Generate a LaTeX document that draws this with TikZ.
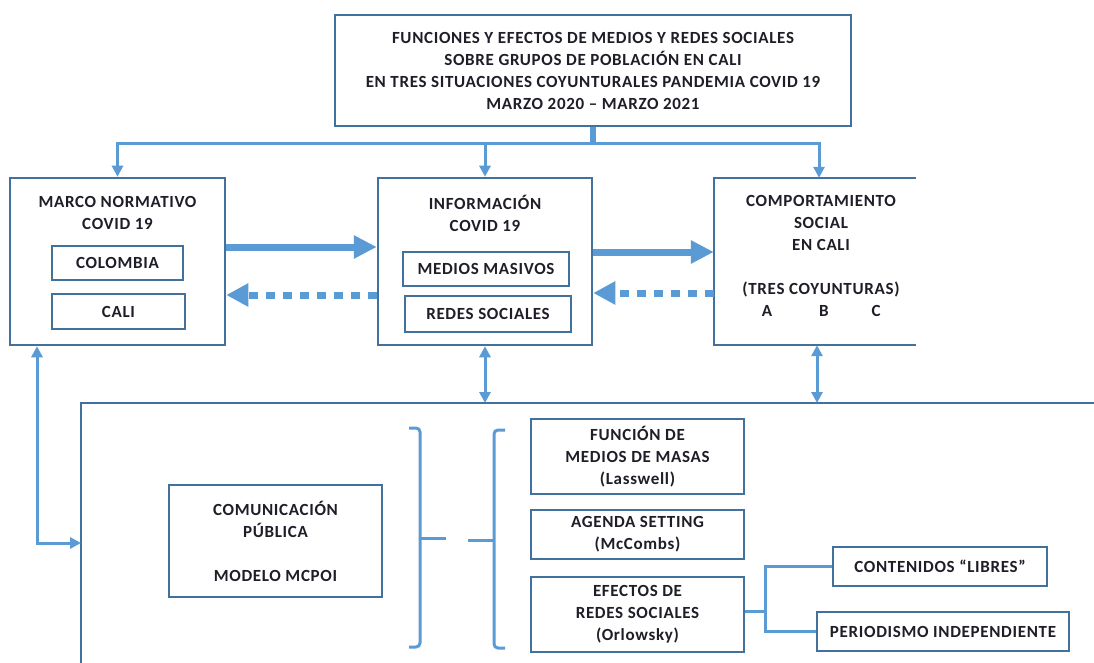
\documentclass[tikz,border=0pt]{standalone}
\usepackage{fontspec}
\setmainfont{Carlito}[LetterSpace=4]
\usetikzlibrary{arrows.meta}
\definecolor{boxc}{HTML}{41719C}
\definecolor{arrc}{HTML}{5B9BD5}
\definecolor{txtc}{HTML}{1E1E28}
\tikzset{
  box/.style={draw=boxc, line width=2.5pt, align=center, inner sep=0pt},
  ghost/.style={align=center, inner sep=0pt},
  lbl/.style={align=center, inner sep=0pt},
  thinarr/.style={draw=arrc, line width=3pt, -{Triangle[length=11pt,width=11pt]}},
  dblarr/.style={draw=arrc, line width=3pt, {Triangle[length=11pt,width=11pt]}-{Triangle[length=11pt,width=11pt]}},
  conn/.style={draw=arrc, line width=3pt},
  fatarr/.style={draw=arrc, line width=7pt, -{Triangle[length=23pt,width=22pt]}},
  dasharr/.style={draw=arrc, line width=7pt, dash pattern=on 9pt off 8pt, -{Triangle[length=22pt,width=22pt]}},
  frame/.style={draw=boxc, line width=2.5pt},
  brk/.style={draw=arrc, line width=3pt, rounded corners=4pt}
}
\begin{document}
\begin{tikzpicture}[x=1pt,y=-1pt, font=\fontsize{17}{22}\selectfont\bfseries, text=txtc]
\useasboundingbox (0,0) rectangle (1094,663);
\fill[white] (0,0) rectangle (1094,663);

% top box
\node[box, minimum width=516pt, minimum height=111pt] (top) at (593,70.5)
  {FUNCIONES Y EFECTOS DE MEDIOS Y REDES SOCIALES\\SOBRE GRUPOS DE POBLACIÓN EN CALI\\EN TRES SITUACIONES COYUNTURALES PANDEMIA COVID 19\\MARZO 2020 – MARZO 2021};

% left box
\node[box, minimum width=215pt, minimum height=167pt] (marco) at (117.5,261.5) {};
\node[lbl] (marcot) at (117.5,213) {MARCO NORMATIVO\\COVID 19};
\node[box, minimum width=131pt, minimum height=34pt] (colombia) at (117.5,263) {COLOMBIA};
\node[box, minimum width=133pt, minimum height=35pt] (cali) at (118.5,311.5) {CALI};

% middle box
\node[box, minimum width=214pt, minimum height=167pt] (info) at (485,261.5) {};
\node[lbl] (infot) at (485,213) {INFORMACIÓN\\COVID 19};
\node[box, minimum width=166pt, minimum height=34pt] (medios) at (486,269) {MEDIOS MASIVOS};
\node[box, minimum width=166pt, minimum height=36pt] (redes) at (488,314) {REDES SOCIALES};

% right box (open on the right)
\node[ghost, minimum width=202pt, minimum height=167pt] (comp) at (815,261.5) {};
\draw[frame] (comp.north east) -- (comp.north west) -- (comp.south west) -- (comp.south east);
\node[lbl] (compt) at (821,246) {COMPORTAMIENTO\\SOCIAL\\EN CALI\\[22pt](TRES COYUNTURAS)};
\node[lbl] (ca) at (767,311) {A};
\node[lbl] (cb) at (824,311) {B};
\node[lbl] (cc) at (876,311) {C};

% distribution from top box
\coordinate (hub) at (593,144);
\draw[conn, line width=6pt] (top.south) -- (hub);
\draw[thinarr] (hub) -| (marco.north);
\draw[thinarr] (hub) -| (info.north);
\draw[thinarr] (hub) -| ([xshift=4pt]comp.north);

% fat arrows
\draw[fatarr] ([yshift=14.5pt]marco.east) -- ([yshift=14.5pt]info.west);
\draw[fatarr] ([yshift=9.5pt]info.east) -- ([yshift=9.5pt]comp.west);
\draw[dasharr] ([yshift=-33.5pt]info.west) -- ([yshift=-33.5pt]marco.east);
\draw[dasharr] ([yshift=-31.5pt]comp.west) -- ([yshift=-31.5pt]info.east);

% big lower frame (open right and bottom)
\coordinate (bigtl) at (81,403);
\draw[frame] (81,663) -- (bigtl) -- (1094,403);

% double arrows
\draw[dblarr] (info.south) -- (info.south |- bigtl);
\draw[dblarr] ([xshift=2pt]comp.south) -- ([xshift=2pt]comp.south |- bigtl);
\coordinate (bend) at (37,543);
\draw[dblarr] (marco.south -| bend) -- (bend) -- (bend -| bigtl);

% comunicación publica
\node[box, minimum width=213pt, minimum height=112pt] (com) at (275.5,541)
  {COMUNICACIÓN\\PÚBLICA\\[22pt]MODELO MCPOI};

% brackets
\draw[brk] (409,428) -- (420,428) -- (420,647) -- (409,647);
\draw[conn] (420,538) -- (446,538);
\draw[brk] (505,430) -- (494,430) -- (494,648) -- (505,648);
\draw[conn] (468,540) -- (494,540);

% right column
\node[box, minimum width=213pt, minimum height=75pt] (funcion) at (637.5,456.5)
  {FUNCIÓN DE\\MEDIOS DE MASAS\\(Lasswell)};
\node[box, minimum width=213pt, minimum height=49pt] (agenda) at (637.5,534.5)
  {AGENDA SETTING\\(McCombs)};
\node[box, minimum width=213pt, minimum height=75pt] (efectos) at (637.5,614.5)
  {EFECTOS DE\\REDES SOCIALES\\(Orlowsky)};
\node[box, minimum width=214pt, minimum height=39pt] (contenidos) at (940,566.5)
  {CONTENIDOS “LIBRES”};
\node[box, minimum width=252pt, minimum height=39pt] (periodismo) at (943,631.5)
  {PERIODISMO INDEPENDIENTE};

\coordinate (fork) at (765,611);
\draw[conn] ([yshift=3.5pt]efectos.east) -- (fork);
\draw[conn] (contenidos.west) -| (fork);
\draw[conn] (periodismo.west) -| (fork);
\end{tikzpicture}
\end{document}
